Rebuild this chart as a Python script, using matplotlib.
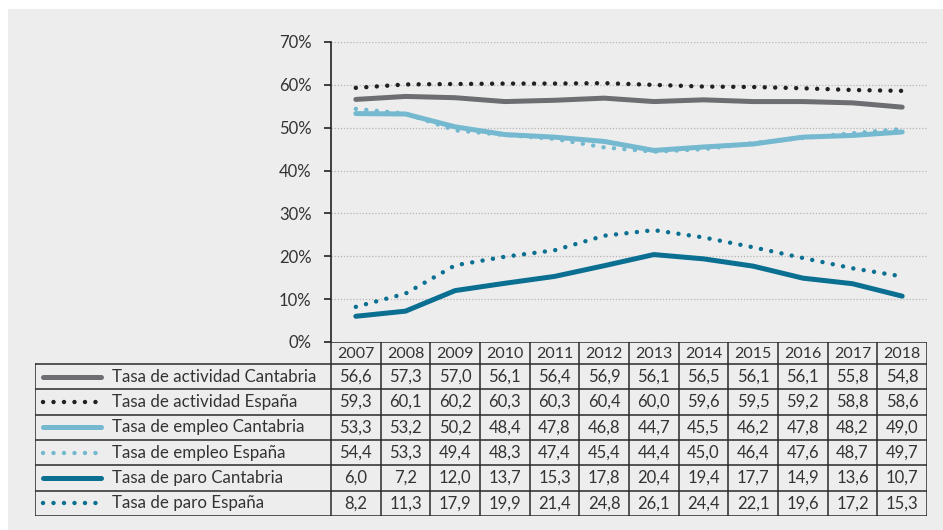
import numpy as np
import matplotlib.pyplot as plt
from matplotlib.patches import Rectangle

plt.rcParams['font.family'] = ['Lato', 'DejaVu Sans']

#### data
years = ['2007', '2008', '2009', '2010', '2011', '2012', '2013', '2014', '2015', '2016', '2017', '2018']
labels = ['Tasa de actividad Cantabria', 'Tasa de actividad España',
          'Tasa de empleo Cantabria', 'Tasa de empleo España',
          'Tasa de paro Cantabria', 'Tasa de paro España']
act_cant = [56.6, 57.3, 57.0, 56.1, 56.4, 56.9, 56.1, 56.5, 56.1, 56.1, 55.8, 54.8]
act_esp = [59.3, 60.1, 60.2, 60.3, 60.3, 60.4, 60.0, 59.6, 59.5, 59.2, 58.8, 58.6]
emp_cant = [53.3, 53.2, 50.2, 48.4, 47.8, 46.8, 44.7, 45.5, 46.2, 47.8, 48.2, 49.0]
emp_esp = [54.4, 53.3, 49.4, 48.3, 47.4, 45.4, 44.4, 45.0, 46.4, 47.6, 48.7, 49.7]
paro_cant = [6.0, 7.2, 12.0, 13.7, 15.3, 17.8, 20.4, 19.4, 17.7, 14.9, 13.6, 10.7]
paro_esp = [8.2, 11.3, 17.9, 19.9, 21.4, 24.8, 26.1, 24.4, 22.1, 19.6, 17.2, 15.3]
series = [act_cant, act_esp, emp_cant, emp_esp, paro_cant, paro_esp]

colors = ['#6d6e71', '#231f20', '#74b9cf', '#74b9cf', '#0a6f91', '#0a6f91']
dotted = [False, True, False, True, False, True]

W, H = 943, 530
fig = plt.figure(figsize=(W/100, H/100), dpi=100)
fig.patches.append(Rectangle((8/W, 0), 1, 1 - 9/H, transform=fig.transFigure,
                             facecolor='#ededed', edgecolor='none', zorder=-10))

def style(i):
    if dotted[i]:
        return dict(color=colors[i], lw=3.2, linestyle=(0, (0.01, 2.35)),
                    dash_capstyle='round')
    return dict(color=colors[i], lw=3.6, solid_capstyle='round', solid_joinstyle='round')

#### chart
x0, x1 = 331, 927
ax = fig.add_axes([x0/W, (H-342)/H, (x1-x0)/W, (342-42)/H])
ax.set_facecolor('none')
x = np.arange(len(years))
for i, s in enumerate(series):
    ax.plot(x, s, **style(i))
ax.set_xlim(-0.5, len(years)-0.5)
ax.set_ylim(0, 70)
ax.set_yticks(np.arange(0, 71, 10))
ax.set_yticklabels([f'{v}%' for v in range(0, 71, 10)], fontsize=12, color='#333333')
ax.set_xticks([])
for sp in ['top', 'right', 'bottom']:
    ax.spines[sp].set_visible(False)
ax.spines['left'].set_color('#222222')
ax.spines['left'].set_linewidth(1.2)
ax.tick_params(axis='y', length=5, width=1.2, color='#222222', pad=9)
ax.grid(axis='y', color='#b5b5b5', linestyle=(0, (1, 1.5)), linewidth=0.9)
ax.set_axisbelow(True)

#### table
colw = (x1 - x0) / len(years)
tl = 35
tx0 = -0.5 - (x0 - tl) / colw
ttop, tbot = 342, 516
hdr = 22
rowh = (tbot - ttop - hdr) / len(labels)
tab = fig.add_axes([tl/W, (H-tbot)/H, (x1-tl)/W, (tbot-ttop)/H])
tab.set_xlim(tx0, len(years)-0.5)
tab.set_ylim(tbot-ttop, 0)
tab.axis('off')
lc = '#2a2a2a'
lw = 1.1
# horizontal lines
tab.plot([-0.5, len(years)-0.5], [0, 0], color=lc, lw=lw)
for r in range(len(labels)+1):
    y = hdr + r*rowh
    tab.plot([tx0, len(years)-0.5], [y, y], color=lc, lw=lw)
# vertical lines
tab.plot([tx0, tx0], [hdr, tbot-ttop], color=lc, lw=lw)
for c in range(len(years)+1):
    tab.plot([c-0.5, c-0.5], [0, tbot-ttop], color=lc, lw=lw)
# header
for c, yr in enumerate(years):
    tab.text(c, hdr/2+1, yr, ha='center', va='center', fontsize=11.5, color='#333333')
# rows
px = lambda p: tx0 + (p - tl) / colw
for r, (lab, s) in enumerate(zip(labels, series)):
    yc = hdr + (r+0.5)*rowh
    tab.plot([px(43), px(101)], [yc, yc], **style(r))
    tab.text(px(112), yc, lab, ha='left', va='center', fontsize=12.2, color='#333333')
    for c, v in enumerate(s):
        tab.text(c, yc, f'{v:.1f}'.replace('.', ','), ha='center', va='center',
                 fontsize=12, color='#333333')

plt.savefig('out.png', dpi=100)
